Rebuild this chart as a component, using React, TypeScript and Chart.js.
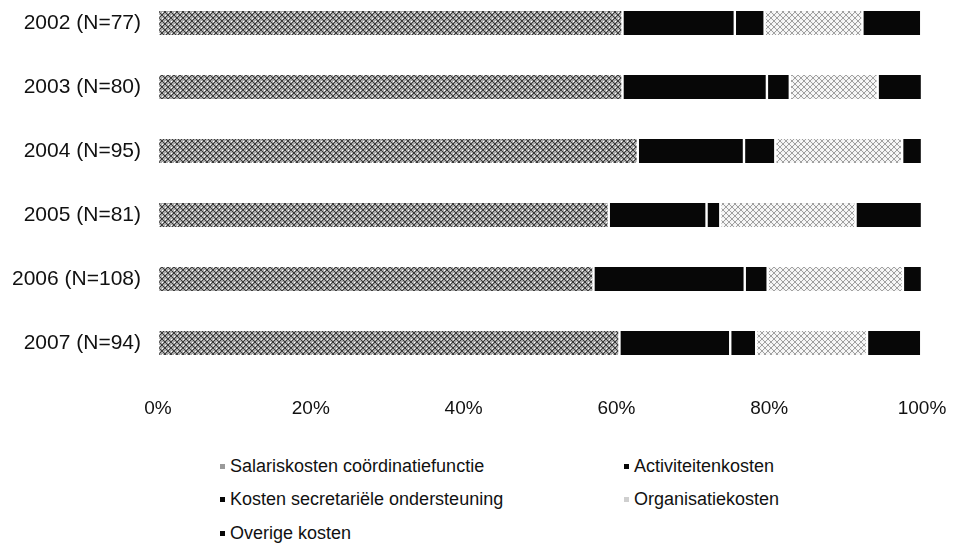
import React, { useEffect, useRef } from "react";
import { Chart, registerables } from "chart.js";

Chart.register(...registerables);

const categories = [
  "2002 (N=77)",
  "2003 (N=80)",
  "2004 (N=95)",
  "2005 (N=81)",
  "2006 (N=108)",
  "2007 (N=94)",
];

const salariskosten = [60.8, 60.8, 62.8, 59.0, 57.0, 60.4];
const activiteitenkosten = [14.7, 18.9, 13.9, 12.8, 19.8, 14.5];
const secretariaat = [3.9, 3.0, 4.1, 1.8, 3.0, 3.4];
const organisatiekosten = [12.8, 11.5, 16.6, 17.7, 17.7, 14.5];
const overigeKosten = [7.7, 5.8, 2.6, 8.7, 2.5, 7.1];

const xTicks = [0, 20, 40, 60, 80, 100];

const seriesNames = [
  "Salariskosten coördinatiefunctie",
  "Activiteitenkosten",
  "Kosten secretariële ondersteuning",
  "Organisatiekosten",
  "Overige kosten",
];

const FONT = "'Liberation Sans', Arial, sans-serif";

function makePattern(bg: string, line: string, dot: string) {
  const c = document.createElement("canvas");
  c.width = 6;
  c.height = 6;
  const g = c.getContext("2d")!;
  g.fillStyle = bg;
  g.fillRect(0, 0, 6, 6);
  g.fillStyle = line;
  for (let i = 0; i < 6; i++) {
    g.fillRect(i, i, 1, 1);
    g.fillRect(5 - i, i, 1, 1);
  }
  g.fillStyle = dot;
  g.fillRect(3, 0, 1, 1);
  g.fillRect(0, 3, 1, 1);
  const p = g.createPattern(c, "repeat");
  return p || bg;
}

export default function App() {
  const ref = useRef<HTMLCanvasElement | null>(null);

  useEffect(() => {
    if (!ref.current) return;
    const salPat = makePattern("#a8a8a8", "#3a3a3a", "#ffffff");
    const orgPat = makePattern("#f4f4f4", "#a0a0a0", "#ffffff");
    const black = "#070707";
    const fills = [salPat, black, black, orgPat, black];
    const values = [
      salariskosten,
      activiteitenkosten,
      secretariaat,
      organisatiekosten,
      overigeKosten,
    ];
    const chart = new Chart(ref.current, {
      type: "bar",
      data: {
        labels: categories,
        datasets: values.map((v, i) => ({
          label: seriesNames[i],
          data: v,
          backgroundColor: fills[i] as any,
          borderColor: "#ffffff",
          borderWidth: { left: 1.2, right: 1.2, top: 0, bottom: 0 },
          borderSkipped: false,
          barPercentage: 0.375,
          categoryPercentage: 1,
        })),
      },
      options: {
        indexAxis: "y",
        animation: false,
        responsive: false,
        maintainAspectRatio: false,
        layout: { padding: { left: 0, right: 32, top: 0, bottom: 0 } },
        plugins: {
          legend: { display: false },
          tooltip: { enabled: false },
        },
        scales: {
          x: {
            stacked: true,
            min: 0,
            max: 100,
            afterBuildTicks: (s: any) => {
              s.ticks = xTicks.map((v) => ({ value: v }));
            },
            afterFit: (s: any) => {
              s.height = 60;
              s.paddingLeft = 0;
              s.paddingRight = 0;
            },
            grid: { display: false, drawTicks: false },
            border: { display: false },
            ticks: {
              padding: 22,
              color: "#111",
              font: { family: FONT, size: 19 },
              callback: (v: any) => v + "%",
            },
          },
          y: {
            stacked: true,
            afterFit: (s: any) => {
              s.width = 158;
              s.paddingTop = 0;
              s.paddingBottom = 0;
            },
            grid: { display: false, drawTicks: false },
            border: { display: false },
            ticks: {
              padding: 17,
              color: "#111",
              font: { family: FONT, size: 21 },
            },
          },
        },
      },
    });
    return () => chart.destroy();
  }, []);

  const legendItems = [
    { name: seriesNames[0], color: "#9a9a9a", x: 220, y: 466 },
    { name: seriesNames[1], color: "#070707", x: 624, y: 466 },
    { name: seriesNames[2], color: "#070707", x: 220, y: 499 },
    { name: seriesNames[3], color: "#cfcfcf", x: 624, y: 499 },
    { name: seriesNames[4], color: "#070707", x: 220, y: 533 },
  ];

  return (
    <div
      style={{
        position: "absolute",
        left: 0,
        top: 0,
        width: 954,
        height: 551,
        overflow: "hidden",
        background: "#fff",
      }}
    >
      <canvas
        ref={ref}
        width={954}
        height={444}
        style={{ position: "absolute", left: 0, top: -9, width: 954, height: 444 }}
      />
      {legendItems.map((it) => (
        <div
          key={it.name}
          style={{
            position: "absolute",
            left: it.x,
            top: it.y - 11,
            height: 22,
            lineHeight: "22px",
            fontFamily: FONT,
            fontSize: 18,
            color: "#111",
            whiteSpace: "nowrap",
            display: "flex",
            alignItems: "center",
          }}
        >
          <span
            style={{
              display: "inline-block",
              width: 5,
              height: 5,
              background: it.color,
              marginRight: 5,
            }}
          />
          <span>{it.name}</span>
        </div>
      ))}
    </div>
  );
}
